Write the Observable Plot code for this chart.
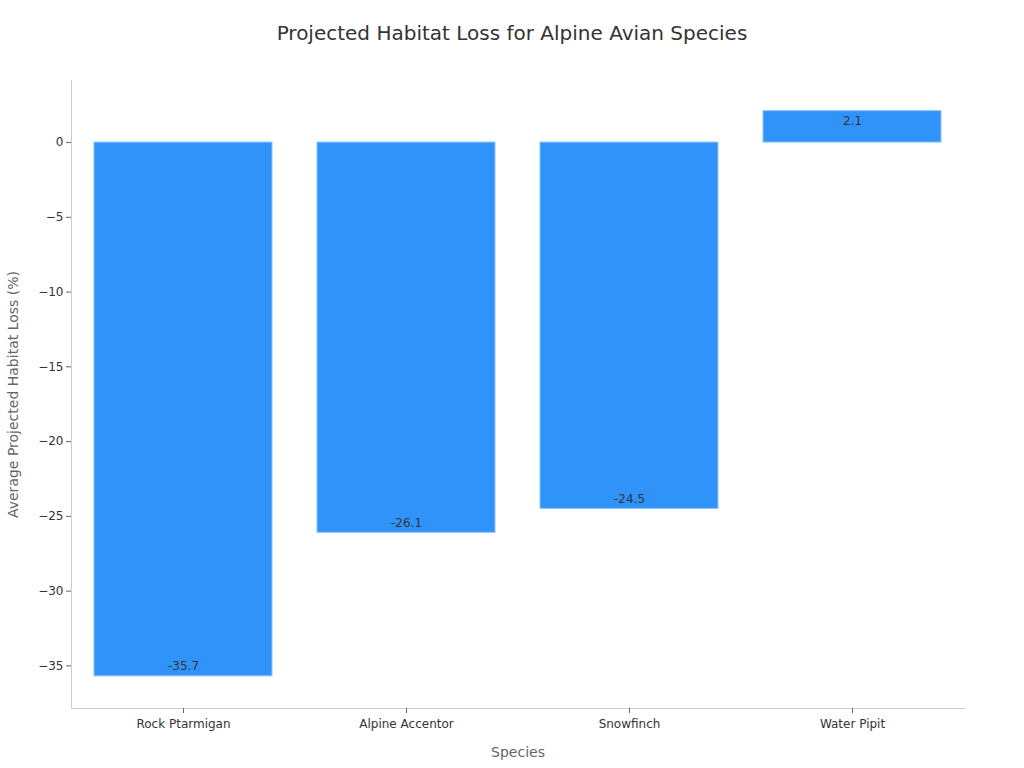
<!DOCTYPE html>
<html>
<head>
<meta charset="utf-8">
<script src="https://cdn.jsdelivr.net/npm/d3@7"></script>
<script src="https://cdn.jsdelivr.net/npm/@observablehq/plot@0.6"></script>
<style>
  body { margin: 0; background: #fff; font-family: "DejaVu Sans", sans-serif; }
  #title { height: 60px; line-height: 66px; text-align: center; font-size: 20px; color: #333; }
  #chart svg { display: block; }
</style>
</head>
<body>
<div id="title">Projected Habitat Loss for Alpine Avian Species</div>
<div id="chart"></div>
<script>
const species = ["Rock Ptarmigan", "Alpine Accentor", "Snowfinch", "Water Pipit"];
const habitatLoss = [-35.7, -26.1, -24.5, 2.1];
const yTicks = [0, -5, -10, -15, -20, -25, -30, -35];

const data = species.map((s, i) => ({species: s, value: habitatLoss[i]}));

const chart = Plot.plot({
  width: 1024,
  height: 708,
  marginTop: 20,
  marginBottom: 60,
  marginLeft: 71,
  marginRight: 60,
  style: {fontFamily: "DejaVu Sans, sans-serif", fontSize: "12px", color: "#333", background: "#fff"},
  x: {domain: species, paddingInner: 0.2, paddingOuter: 0.1},
  y: {domain: [-37.85, 4.15]},
  marks: [
    Plot.barY(data, {x: "species", y: "value", fill: "#2f93fa", stroke: "#8cc4ff", strokeWidth: 1}),
    Plot.text(data.filter(d => d.value < 0), {x: "species", y: "value", text: d => d.value.toFixed(1), dy: -10, fill: "#333", fontSize: 12}),
    Plot.text(data.filter(d => d.value >= 0), {x: "species", y: "value", text: d => d.value.toFixed(1), dy: 10, fill: "#333", fontSize: 12}),
    Plot.frame({anchor: "left", stroke: "#ccc"}),
    Plot.frame({anchor: "bottom", stroke: "#ccc"}),
    Plot.axisY({ticks: yTicks, tickSize: 5, tickPadding: 3, stroke: "#666", fill: "#333",
      label: "Average Projected Habitat Loss (%)", labelArrow: "none", labelAnchor: "center", labelOffset: 63}),
    Plot.axisX({tickSize: 5, tickPadding: 6, stroke: "#666", fill: "#333",
      label: "Species", labelArrow: "none", labelAnchor: "center", labelOffset: 48})
  ]
});
document.getElementById("chart").appendChild(chart);

// style axis labels
chart.querySelectorAll("g[aria-label='y-axis label'] text, g[aria-label='x-axis label'] text").forEach(t => {
  t.setAttribute("fill", "#666");
  t.style.fontSize = "14px";
});
</script>
</body>
</html>
